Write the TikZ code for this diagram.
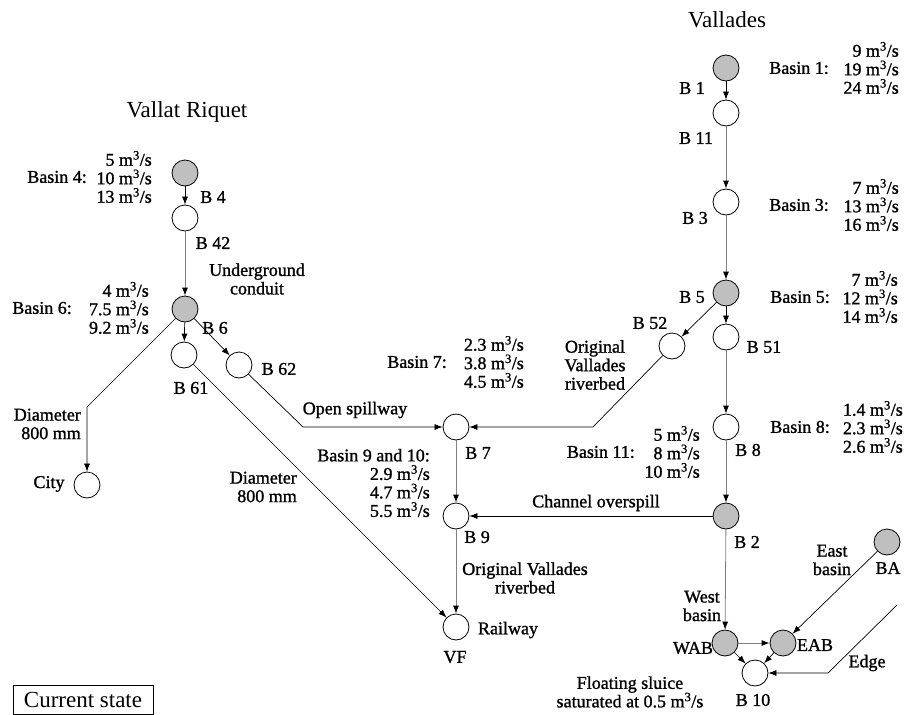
\documentclass[tikz,border=0pt]{standalone}
\usepackage{fontspec}
\setmainfont{Liberation Serif}
\newfontfamily\heavyfont{Liberation Serif}[FakeBold=1.2]
\usepackage{tikz}
\usetikzlibrary{positioning,arrows.meta}
\newcommand{\qrate}[1]{#1 m\textsuperscript{3}/s}

\begin{document}
\begin{tikzpicture}[x=1pt, y=-1pt,
        every node/.style={font=\heavyfont\fontsize{18}{18.5}\selectfont},
        basin/.style={circle, draw, line width=0.8pt, fill=white, minimum size=26pt, inner sep=0pt},
        fullBasin/.style={basin, fill=black!25},
        txt/.style={inner sep=0pt, align=center},
        values/.style={inner sep=0pt, align=right, anchor=east},
        title/.style={inner sep=0pt, font=\normalfont\fontsize{23}{26}\selectfont},
        pipe/.style={line width=0.7pt, draw=black, -{Latex[length=8pt,width=6pt]}},
        channel/.style={line width=0.8pt, draw=black!50, -{Latex[length=8pt,width=6pt,color=black]}}
    ]
        \useasboundingbox (0,0) rectangle (906,715);

        % Vallades
        \node[title] (vallades) at (727,20) {Vallades};
        \node[fullBasin] (B1) at (726,68) {};
        \node[basin] (B11) at (726,113) {};
        \node[basin] (B3) at (726,202) {};
        \node[fullBasin] (B5) at (726,293) {};
        \node[basin] (B51) at (726,337) {};
        \node[basin] (B52) at (672,346) {};
        \node[basin] (B8) at (726,427) {};
        \node[fullBasin] (B2) at (726,516) {};
        \node[fullBasin] (WAB) at (725,643) {};
        \node[fullBasin] (EAB) at (783,643) {};
        \node[basin] (B10) at (755,673) {};
        \node[fullBasin] (BA) at (887,542) {};

        % Vallat Riquet
        \node[title] (riquet) at (187,112) {Vallat Riquet};
        \node[fullBasin] (B4) at (185,173) {};
        \node[basin] (B42) at (185,218) {};
        \node[fullBasin] (B6) at (185,309) {};
        \node[basin] (B61) at (184,355) {};
        \node[basin] (B62) at (239,365) {};
        \node[basin] (City) at (87,485) {};

        % Downstream
        \node[basin] (B7) at (456,427) {};
        \node[basin] (B9) at (456,516) {};
        \node[basin] (VF) at (456,627) {};

        % Node names
        \node[txt] (lB1) at (692,88) {B 1};
        \node[txt] (lB11) at (696,138) {B 11};
        \node[txt] (lB3) at (695,218) {B 3};
        \node[txt] (lB5) at (692,297) {B 5};
        \node[txt] (lB52) at (650,323) {B 52};
        \node[txt] (lB51) at (764,347) {B 51};
        \node[txt] (lB8) at (748,450) {B 8};
        \node[txt] (lB2) at (747,542) {B 2};
        \node[txt] (lWAB) at (693,648) {WAB};
        \node[txt] (lEAB) at (815,645) {EAB};
        \node[txt] (lB10) at (753,700) {B 10};
        \node[txt] (lBA) at (888,568) {BA};
        \node[txt] (lB4) at (213,197) {B 4};
        \node[txt] (lB42) at (213,243) {B 42};
        \node[txt] (lB6) at (215,328) {B 6};
        \node[txt] (lB61) at (191,388) {B 61};
        \node[txt] (lB62) at (279,369) {B 62};
        \node[txt] (lCity) at (49,484) {City};
        \node[txt] (lB7) at (478,453) {B 7};
        \node[txt] (lB9) at (477,537) {B 9};
        \node[txt] (lVF) at (455,657) {VF};
        \node[txt] (lRail) at (508,630) {Railway};

        % Basin flows
        \node[values] (q1) at (899,68) {\qrate{9}\\\qrate{19}\\\qrate{24}};
        \node[values] (b1) at (829,68) {Basin 1:};
        \node[values] (q3) at (899,205) {\qrate{7}\\\qrate{13}\\\qrate{16}};
        \node[values] (b3) at (829,205) {Basin 3:};
        \node[values] (q5) at (898,297) {\qrate{7}\\\qrate{12}\\\qrate{14}};
        \node[values] (b5) at (830,297) {Basin 5:};
        \node[values] (q8) at (903,427) {\qrate{1.4}\\\qrate{2.3}\\\qrate{2.6}};
        \node[values] (b8) at (830,427) {Basin 8:};
        \node[values] (q11) at (700,452) {\qrate{5}\\\qrate{8}\\\qrate{10}};
        \node[values] (b11) at (635,452) {Basin 11:};
        \node[values] (q7) at (524,362) {\qrate{2.3}\\\qrate{3.8}\\\qrate{4.5}};
        \node[values] (b7) at (447,362) {Basin 7:};
        \node[values] (q9) at (430,483) {Basin 9 and 10:\\\qrate{2.9}\\\qrate{4.7}\\\qrate{5.5}};
        \node[values] (q4) at (152,177) {\qrate{5}\\\qrate{10}\\\qrate{13}};
        \node[values] (b4) at (87,177) {Basin 4:};
        \node[values] (q6) at (149,308) {\qrate{4}\\\qrate{7.5}\\\qrate{9.2}};
        \node[values] (b6) at (72,308) {Basin 6:};

        % Connector labels
        \node[txt] (lUnder) at (257,279) {Underground\\conduit};
        \node[txt] (lOrig) at (595,365) {Original\\Vallades\\riverbed};
        \node[txt] (lOpen) at (355,410) {Open spillway};
        \node[txt] (lChan) at (596,503) {Channel overspill};
        \node[values] (lDiamA) at (81,424) {Diameter\\800 mm};
        \node[values] (lDiamB) at (297,487) {Diameter\\800 mm};
        \node[txt] (lOrigB) at (525,578) {Original Vallades\\riverbed};
        \node[txt] (lWest) at (702,606) {West\\basin};
        \node[txt] (lEast) at (832,560) {East\\basin};
        \node[txt] (lEdge) at (867,663) {Edge};
        \node[txt] (lSluice) at (630,692) {Floating sluice\\saturated at \qrate{0.5}};
        \node[draw, line width=0.7pt, minimum width=140pt, minimum height=29pt, inner sep=0pt, font=\normalfont\fontsize{23}{26}\selectfont] (state) at (83,699.5) {Current state};

        % Bends
        \coordinate (cityBend) at (87,407);
        \coordinate (spillBend) at (303,427);
        \coordinate (riverBend) at (593,427);
        \coordinate (edgeTop) at (897,605);
        \coordinate (edgeBend) at (828,673);

        % Vallades connectors
        \draw[pipe] (B1) -- (B11);
        \draw[channel] (B11) -- (B3);
        \draw[channel] (B3) -- (B5);
        \draw[pipe] (B5) -- (B51);
        \draw[pipe] (B5) -- (B52);
        \draw[channel] (B51) -- (B8);
        \draw[channel] (B8) -- (B2);
        \draw[pipe] (B2) -- (B9);
        \draw[channel] (B2) -- (WAB);
        \draw[channel] (WAB) -- (EAB);
        \draw[pipe] (WAB) -- (B10);
        \draw[pipe] (EAB) -- (B10);
        \draw[pipe] (BA) -- (EAB);
        \draw[pipe] (edgeTop) -- (edgeBend) -- (B10);
        \draw[pipe] (B52) -- (riverBend) -- (B7);

        % Vallat Riquet connectors
        \draw[pipe] (B4) -- (B42);
        \draw[channel] (B42) -- (B6);
        \draw[pipe] (B6) -- (B61);
        \draw[pipe] (B6) -- (B62);
        \draw[pipe] (B6) -- (cityBend) -- (City);
        \draw[pipe] (B61) -- (VF);
        \draw[pipe] (B62) -- (spillBend) -- (B7);
        \draw[channel] (B7) -- (B9);
        \draw[channel] (B9) -- (VF);
    \end{tikzpicture}
\end{document}
